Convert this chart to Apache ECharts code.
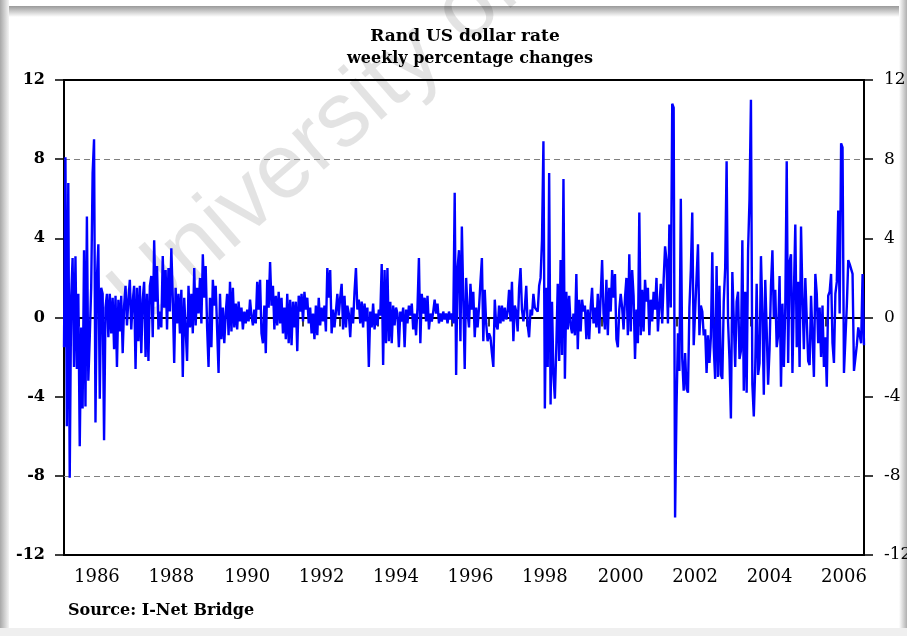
<!DOCTYPE html>
<html>
<head>
<meta charset="utf-8">
<title>Rand US dollar rate</title>
<script src="https://cdn.jsdelivr.net/npm/echarts@6/dist/echarts.min.js"></script>
<style>
  html, body { margin: 0; padding: 0; background: #fff; }
  #chart { width: 907px; height: 636px; }
</style>
</head>
<body>
<div id="chart"></div>
<script>
// fortnightly sample of the weekly % change
const startDate = '1985-08-16';
const stepDays = 14;

const chg85to88 = [
  -1.5, 8.1, -5.5, 6.8, -8.1, 1.0, 3.0, -2.5, 3.1, -2.6,
  1.2, -6.5, -0.5, -4.6, 3.4, -4.5, 5.1, -3.2, -1.0, 1.5,
  7.3, 9.0, -5.3, 2.0, 3.7, -4.1, 1.5, 1.2, -6.2, 0.5,
  1.2, -1.0, 1.2, -0.8, 1.0, -1.6, 1.1, -2.5, 0.9, -0.7,
  1.1, -1.8, 0.6, 1.6, -0.4, 0.9, 1.9, -0.6, 0.8, 1.6,
  -2.6, 1.5, -1.2, 1.6, -1.8, 0.9, 1.8, -2.0, 1.2, -2.2,
  1.6, 2.1, -1.0, 3.9, 0.8, 2.6, -0.6, 0.3, -0.5, 3.1,
  0.5, 2.4, -0.6, 2.5, 0.3, 3.5, 1.0, -2.3, 1.5, -0.3,
  1.2, -0.8, 1.4, -3.0, 1.0, -0.6, -2.2, 1.6, -0.5, 1.2,
  -0.8
];
const chg89to92 = [
  2.5, -0.4, 1.5, 0.2, 2.0, -0.3, 3.2, 1.0, 2.6, -0.5,
  -2.5, 1.0, -1.5, 1.9, 0.6, 1.6, -0.6, -2.8, 1.2, -1.1,
  0.5, -1.3, 0.2, 1.2, -0.9, 1.8, -0.7, 1.5, -0.5, 0.7,
  -0.6, 0.8, -0.2, 0.5, -0.6, 0.3, -0.3, 0.4, -0.2, 0.9,
  0.1, -0.4, 0.4, -0.3, 1.8, 0.4, 1.9, -0.8, -1.3, 0.6,
  -1.8, 1.9, 0.5, 2.8, 0.6, 1.6, -0.6, 1.1, -0.4, 1.3,
  -0.3, 1.0, -0.8, 0.5, -1.1, 1.2, -1.3, 0.9, -1.4, 0.8,
  -0.5, 0.8, -1.7, 1.1, 0.3, 1.2, -0.2, 1.3, 0.4, 1.0,
  -0.3, 0.5, -0.8, 0.2, -1.1, 0.6, -0.9, 1.0, -0.4, 0.5,
  -0.2, 0.6, -0.7, 2.5, 1.0
];
const chg92to96 = [
  2.4, -0.8, 0.4, -0.5, 0.3, 1.2, 0.1, 1.0, 1.7, -0.6,
  1.1, -0.5, 0.6, 0.2, -1.0, 0.5, -0.3, 1.3, 2.5, 0.4,
  0.9, -0.3, 0.8, -0.5, 0.7, -0.2, 0.5, -2.5, 0.3, -0.5,
  0.7, -0.6, 0.2, -0.4, 0.4, 0.1, 2.7, -2.4, 2.4, -1.3,
  2.5, -1.2, 0.8, -1.3, 0.6, -0.4, 0.5, 0.2, -1.5, 0.3,
  -0.2, 0.5, -1.5, 0.4, -0.3, 0.6, 0.1, 0.7, -0.6, 0.2,
  -0.9, 0.5, 3.0, -1.3, 1.2, 0.2, 1.0, -0.2, 1.1, -0.6,
  0.2, -0.2, 0.3, 0.9, 0.2, 0.7, -0.3, 0.2, -0.2, 0.3,
  -0.1, 0.2, -0.3, 0.3, -0.1, 0.2, -0.3, 6.3, -2.9, 2.5,
  3.4, -1.2, 4.6, 1.0
];
const chg96to99 = [
  -2.6, 2.0, 0.3, -0.5, 1.7, 0.4, 1.3, -1.0, 0.5, -0.5,
  0.5, 1.8, 3.0, -1.2, 1.4, -0.3, -1.2, -0.8, -1.0, -1.8,
  -2.5, 0.9, -0.4, -0.6, 0.6, -0.3, 0.6, -0.2, 0.5, -0.1,
  0.3, 1.4, -0.2, 1.8, -1.2, 0.6, 0.3, -0.7, 1.5, 2.5,
  0.4, -0.2, 0.5, 1.6, -0.4, -1.0, 0.4, 0.1, 1.2, 0.5,
  0.6, 0.3, 1.6, 2.0, 3.9, 8.9, -4.6, 1.5, -2.5, 7.3,
  -4.4, 0.8, -2.9, -4.1, -1.5, 1.7, -2.2, 2.9, -1.9, 7.0,
  -3.1, 1.3, -0.6, 1.1, -0.4, -0.8, 0.2, -0.9, 2.2, -1.6,
  0.9, -0.7, 0.9, 0.3, 0.6, -1.1, 0.4, -1.1, 0.5, 1.5,
  -0.3, 0.5, -0.5, 1.2, -0.8
];
const chg00to03 = [
  -0.8, 2.9, 0.2, -0.6, 1.9, -0.9, 1.5, 0.3, 2.4, 1.0,
  2.2, -1.1, -1.5, 0.4, 1.2, 0.5, -0.6, 1.0, 2.0, -0.9,
  3.2, -0.7, 2.4, 1.1, -2.1, 0.4, -1.3, 5.3, -0.9, 1.4,
  -0.7, 1.9, 0.8, 1.5, -0.9, 0.9, -0.2, 1.3, 0.4, 2.0,
  -0.7, 0.6, 1.7, -0.3, 1.9, 3.6, 2.9, -0.3, 4.7, 0.5,
  10.8, 10.6, -10.1, -4.5, -0.8, -2.7, 6.0, -2.1, -3.7, -1.8,
  -3.6, -3.8, 0.5, 2.4, 5.3, -1.4, -1.3, 2.0, 3.7, -0.9,
  0.6, 0.3, -0.9, -0.6, -2.8, -0.9, -2.3, -1.0, 3.3, -1.5,
  -3.1, 2.6, -3.0, 1.6, -2.9, -3.1, 0.8, 2.5, 7.9, -0.2,
  -2.1, -5.1, 2.3, -0.1, -2.5
];
const chg03to06 = [
  0.8, 1.3, -2.1, -1.7, 3.9, -3.7, 1.3, -3.8, 3.4, 6.0,
  11.0, -3.4, -5.0, -2.5, 1.7, -2.9, -2.3, 3.1, 0.3, -3.9,
  1.9, -0.6, -3.4, -1.6, 1.6, 3.4, 0.0, 1.4, -1.5, -0.9,
  2.1, -3.5, 0.7, -2.5, 0.5, 7.9, -2.3, 2.8, 3.2, -2.8,
  1.2, 4.7, -1.5, 1.8, -2.5, 4.6, 1.0, -1.6, 2.0, 1.9,
  -2.2, -2.4, 1.1, 1.0, -3.0, 2.2, 1.2, -1.3, 0.5, -2.0,
  0.6, -2.5, -1.0, -3.5, 1.1, 1.3, 2.2, -1.3, -2.3, 1.2,
  1.8, 5.4, 0.2, 8.8, 8.6, -2.8, -2.7, 0.6, 2.9, 2.7,
  2.6, 2.2, -2.7, -2.7, -1.4, -0.5, -0.5, -1.3, 2.2, -1.4
];

const yTicks = [-12, -8, -4, 0, 4, 8, 12];
const refLines = [8, -8];

const rates = [].concat(chg85to88, chg89to92, chg92to96, chg96to99, chg00to03, chg03to06);

// category dates, one every stepDays
const dates = [];
const t0 = new Date(startDate + 'T00:00:00Z').getTime();
for (let i = 0; i < rates.length; i++) {
  dates.push(new Date(t0 + i * stepDays * 86400000).toISOString().slice(0, 10));
}

const serif = 'DejaVu Serif';

const chart = echarts.init(document.getElementById('chart'));

const yAxisBase = {
  type: 'value',
  min: yTicks[0],
  max: yTicks[yTicks.length - 1],
  interval: 4,
  splitLine: { show: false },
  axisLine: { show: true, lineStyle: { color: '#000', width: 2 } },
  axisTick: { show: true, length: 9, lineStyle: { color: '#000', width: 1.5 } }
};

const option = {
  backgroundColor: '#fff',
  animation: false,
  grid: {
    left: 64, right: 43, top: 80, bottom: 81,
    outerBoundsMode: 'none',
    containLabel: false,
    show: true, borderColor: '#000', borderWidth: 2
  },
  xAxis: {
    type: 'category',
    data: dates,
    boundaryGap: false,
    axisLine: { lineStyle: { color: '#000', width: 2 } },
    axisTick: {
      length: 9,
      lineStyle: { color: '#000', width: 1.5 },
      // tick at the first point of every new year
      interval: (idx, val) => idx > 0 && val.slice(0, 4) !== dates[idx - 1].slice(0, 4)
    },
    axisLabel: {
      // label centred on mid-year of even years
      interval: (idx, val) => {
        if (+val.slice(0, 4) % 2 !== 0 || val.slice(5, 7) !== '07') return false;
        return idx === 0 || dates[idx - 1].slice(5, 7) !== '07';
      },
      formatter: v => v.slice(0, 4),
      fontFamily: serif,
      fontSize: 18,
      color: '#000',
      margin: 13
    },
    splitLine: { show: false }
  },
  yAxis: [
    Object.assign({}, yAxisBase, {
      position: 'left',
      axisLabel: { margin: 19, fontFamily: serif, fontWeight: 'bold', fontSize: 16, color: '#000' }
    }),
    Object.assign({}, yAxisBase, {
      position: 'right',
      axisLabel: { margin: 20, fontFamily: serif, fontSize: 17, color: '#000' }
    })
  ],
  series: [
    {
      name: 'Rand/USD weekly % change',
      type: 'line',
      data: rates,
      showSymbol: false,
      symbol: 'none',
      z: 3,
      lineStyle: { color: '#0000ff', width: 2.4 },
      markLine: {
        z: 1,
        silent: true,
        symbol: 'none',
        label: { show: false },
        data: [
          { yAxis: 0, lineStyle: { color: '#000', type: 'solid', width: 1.5 } }
        ].concat(refLines.map(v => ({
          yAxis: v,
          lineStyle: { color: '#808080', type: [6, 4], width: 1 }
        })))
      }
    }
  ],
  graphic: [
    // light shadow edges of the scanned page
    {
      type: 'rect', z: 0, silent: true,
      shape: { x: 0, y: 6, width: 907, height: 11 },
      style: { fill: new echarts.graphic.LinearGradient(0, 0, 0, 1, [
        { offset: 0, color: '#9a9a9a' }, { offset: 1, color: '#ffffff' }]) }
    },
    {
      type: 'rect', z: 0, silent: true,
      shape: { x: 0, y: 0, width: 9, height: 636 },
      style: { fill: new echarts.graphic.LinearGradient(0, 0, 1, 0, [
        { offset: 0, color: '#a8a8a8' }, { offset: 1, color: '#f4f4f4' }]) }
    },
    {
      type: 'rect', z: 0, silent: true,
      shape: { x: 899, y: 0, width: 8, height: 636 },
      style: { fill: new echarts.graphic.LinearGradient(0, 0, 1, 0, [
        { offset: 0, color: '#ffffff' }, { offset: 1, color: '#b0b0b0' }]) }
    },
    {
      type: 'rect', z: 0, silent: true,
      shape: { x: 0, y: 628, width: 907, height: 8 },
      style: { fill: '#efefef' }
    },
    // watermark
    {
      type: 'text', z: 0, silent: true,
      x: 155, y: 344,
      rotation: 41 * Math.PI / 180,
      style: {
        text: 'University of Pretoria',
        fontFamily: 'Liberation Sans',
        fontSize: 92,
        fill: 'rgba(0,0,0,0.11)',
        textAlign: 'left',
        textVerticalAlign: 'bottom'
      }
    },
    {
      type: 'text', z: 10,
      x: 465, y: 37,
      style: {
        text: 'Rand US dollar rate',
        fontFamily: serif, fontWeight: 'bold', fontSize: 17, fill: '#000',
        textAlign: 'center', textVerticalAlign: 'middle'
      }
    },
    {
      type: 'text', z: 10,
      x: 470, y: 59,
      style: {
        text: 'weekly percentage changes',
        fontFamily: serif, fontWeight: 'bold', fontSize: 16, fill: '#000',
        textAlign: 'center', textVerticalAlign: 'middle'
      }
    },
    {
      type: 'text', z: 10,
      x: 68, y: 611,
      style: {
        text: 'Source: I-Net Bridge',
        fontFamily: serif, fontWeight: 'bold', fontSize: 16, fill: '#000',
        textAlign: 'left', textVerticalAlign: 'middle'
      }
    }
  ]
};

chart.setOption(option);

window.addEventListener('resize', () => {
  chart.resize();
});
</script>
</body>
</html>
